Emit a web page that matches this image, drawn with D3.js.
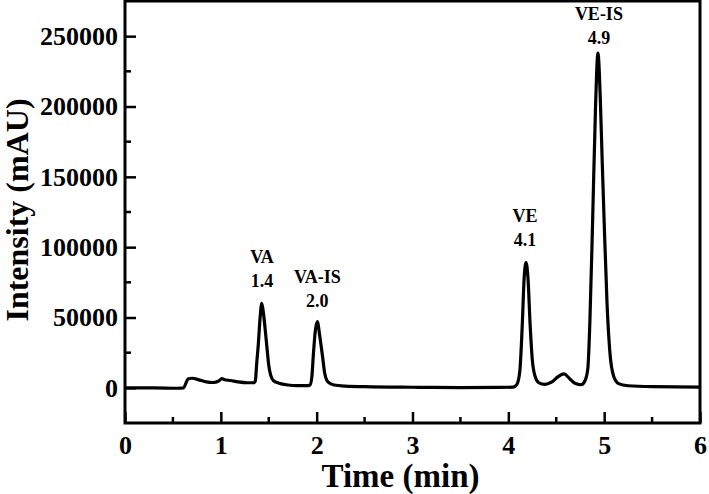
<!DOCTYPE html>
<html>
<head>
<meta charset="utf-8">
<script src="https://cdn.jsdelivr.net/npm/d3@7"></script>
<style>
  body { margin: 0; background: #fff; }
  svg text { font-family: "Liberation Serif", "Times New Roman", serif; font-weight: bold; fill: #000; }
</style>
</head>
<body>
<svg id="plotArea" width="709" height="494"></svg>
<script>
// ************************************
// Data
// ************************************

const times = [
  0.00, 0.30, 0.55, 0.61, 0.66, 0.70, 0.78, 0.85, 0.92, 0.98, 1.01, 1.04, 1.10, 1.18, 1.28,
  1.35, 1.36, 1.375, 1.39, 1.41, 1.427, 1.445, 1.465, 1.485, 1.50, 1.52, 1.55, 1.60, 1.70, 1.80, 1.90,
  1.93, 1.95, 1.965, 1.985, 2.007, 2.03, 2.06, 2.085, 2.12, 2.18, 2.30,
  2.50, 3.00, 3.50, 3.90, 4.05,
  4.09, 4.12, 4.145, 4.165, 4.185, 4.205, 4.228, 4.25, 4.28, 4.32, 4.38,
  4.45, 4.52, 4.58, 4.64, 4.70, 4.76,
  4.80, 4.83, 4.85, 4.88, 4.91, 4.935, 4.96, 4.98, 5.00, 5.03, 5.06, 5.10, 5.15,
  5.25, 5.50, 6.00
];
const intensity = [
  0, 0, -300, 0, 6500, 6800, 5500, 4200, 3800, 5000, 6500, 5800, 5200, 4200, 3600,
  3700, 5000, 18000, 30000, 50000, 60000, 53000, 40000, 26000, 16000, 9000, 5000, 3500, 2000, 1500, 1500,
  2000, 8000, 23000, 40000, 47000, 38000, 23000, 10000, 4000, 2000, 1200,
  800, 400, 200, 300, 500,
  2500, 12000, 44000, 78000, 89000, 78000, 44000, 20000, 8000, 3500, 2500,
  4000, 8000, 9900, 6500, 3000, 2200,
  5000, 14000, 45000, 120000, 200000, 238000, 205000, 160000, 118000, 60000, 25000, 8000, 3000,
  1500, 800, 500
];

// peak annotations: name, retention time, anchor intensity for the number line
const peakNames = ["VA", "VA-IS", "VE", "VE-IS"];
const peakTimes = ["1.4", "2.0", "4.1", "4.9"];
const labelX = [1.43, 2.007, 4.175, 4.945];
const labelY = [71500, 57500, 100500, 244500];

const xTicks = [0, 1, 2, 3, 4, 5, 6];
const yTicks = [0, 50000, 100000, 150000, 200000, 250000];

const data = times.map((t, i) => ({x: t, y: intensity[i]}));

// ************************************
// Plot
// ************************************

const svg = d3.select("#plotArea");
const margin = {top: 1, right: 9, bottom: 71, left: 125};
const width = +svg.attr("width") - margin.left - margin.right;
const height = +svg.attr("height") - margin.top - margin.bottom;
const g = svg.append("g").attr("transform", `translate(${margin.left},${margin.top})`);

const x = d3.scaleLinear().domain([0, 6]).range([0, width]);
const y = d3.scaleLinear().domain([-25000, 275000]).range([height, 0]);

// minor ticks
const xMinor = d3.range(0.5, 6, 1);
const yMinor = d3.range(-25000, 275000, 50000).filter(v => v > -25000);

g.selectAll(".xminor").data(xMinor).enter().append("line")
    .attr("x1", d => x(d)).attr("x2", d => x(d))
    .attr("y1", height).attr("y2", height - 6)
    .attr("stroke", "#000").attr("stroke-width", 2.5);
g.selectAll(".yminor").data(yMinor).enter().append("line")
    .attr("x1", 0).attr("x2", 6)
    .attr("y1", d => y(d)).attr("y2", d => y(d))
    .attr("stroke", "#000").attr("stroke-width", 2.5);

// Axes
const xAxis = g.append("g")
    .attr("transform", `translate(0,${height})`)
    .call(d3.axisBottom(x).tickValues(xTicks).tickFormat(d3.format("d"))
        .tickSizeInner(-11).tickSizeOuter(0).tickPadding(13));

const yAxis = g.append("g")
    .call(d3.axisLeft(y).tickValues(yTicks).tickFormat(d3.format("d"))
        .tickSizeInner(-11).tickSizeOuter(0).tickPadding(7));

[xAxis, yAxis].forEach(a => {
  a.select(".domain").remove();
  a.selectAll(".tick line").attr("stroke", "#000").attr("stroke-width", 2.5);
  a.selectAll(".tick text").style("font-size", "26px").attr("fill", "#000");
});
xAxis.selectAll(".tick text").attr("dy", "0.71em");

// frame
g.append("rect")
    .attr("x", 0).attr("y", 0)
    .attr("width", width).attr("height", height)
    .attr("fill", "none").attr("stroke", "#000").attr("stroke-width", 3);

// trace
const line = d3.line()
    .x(d => x(d.x))
    .y(d => y(d.y))
    .curve(d3.curveMonotoneX);

g.append("path")
    .datum(data)
    .attr("fill", "none")
    .attr("stroke", "#000")
    .attr("stroke-width", 3.2)
    .attr("stroke-linejoin", "round")
    .attr("d", line);

// peak labels
peakNames.forEach((name, i) => {
  g.append("text")
      .attr("x", x(labelX[i]))
      .attr("y", y(labelY[i]) - 24)
      .attr("text-anchor", "middle")
      .style("font-size", "18px")
      .text(name);
  g.append("text")
      .attr("x", x(labelX[i]))
      .attr("y", y(labelY[i]))
      .attr("text-anchor", "middle")
      .style("font-size", "18px")
      .text(peakTimes[i]);
});

// axis titles
svg.append("text")
    .attr("x", margin.left + x(3) - 12)
    .attr("y", 487)
    .attr("text-anchor", "middle")
    .style("font-size", "33px")
    .text("Time (min)");

svg.append("text")
    .attr("transform", "translate(28,210) rotate(-90)")
    .attr("text-anchor", "middle")
    .style("font-size", "32px")
    .text("Intensity (mAU)");
</script>
</body>
</html>
